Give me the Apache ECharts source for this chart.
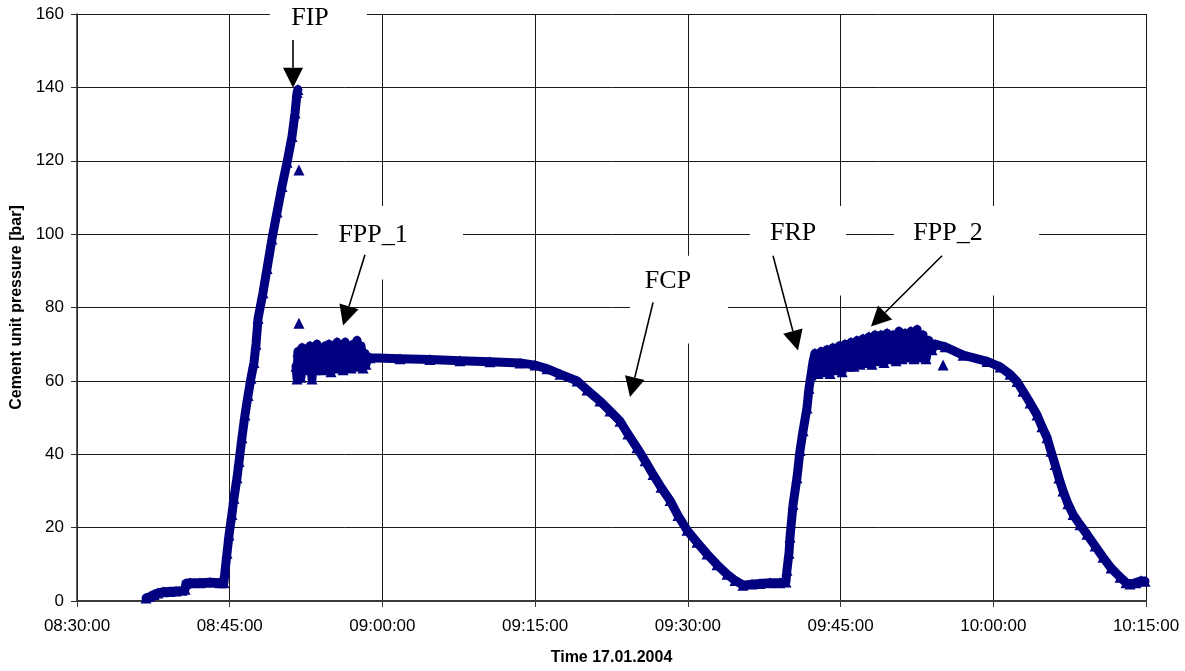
<!DOCTYPE html>
<html><head><meta charset="utf-8">
<script src="https://cdn.jsdelivr.net/npm/echarts@6/dist/echarts.min.js"></script>
<style>html,body{margin:0;padding:0;background:#fff}#c{width:1185px;height:671px}</style>
</head><body><div id="c"></div>
<script>
// ---- data (time HH:MM:SS, pressure bar) ----
const xMin = "08:30:00", xMax = "10:15:00";
const yTicks = [0, 20, 40, 60, 80, 100, 120, 140, 160];
const rampUp = [["08:36:47",0.8],["08:37:10",1.2],["08:37:34",1.8],["08:37:57",2.2],["08:38:27",2.5],["08:39:08",2.6],["08:39:44",2.7],["08:40:19",2.9],["08:40:37",3.2],["08:40:42",4.8],["08:41:06",5.0],["08:42:05",5.0],["08:43:04",5.1],["08:44:03",5.0],["08:44:26",5.0],["08:44:32",8],["08:44:44",13],["08:44:56",18],["08:45:13",23.6],["08:45:25",28],["08:45:43",33.6],["08:45:55",38],["08:46:12",44.5],["08:46:30",50.7],["08:46:48",56],["08:47:05",60.7],["08:47:23",65],["08:47:35",70],["08:47:47",77],["08:48:16",84],["08:48:40",90.6],["08:49:09",98.7],["08:49:39",106],["08:50:08",113],["08:50:38",119.6],["08:51:07",126.6],["08:51:25",133],["08:51:37",138.6],["08:51:42",139.4]];
const spikes = [["08:51:48",117.5],["08:51:48",75.7],["09:55:04",64.3]];
const pumping1 = [["08:51:31",64],["08:51:37",60.5],["08:51:42",68],["08:51:48",63],["08:51:54",67],["08:52:00",61],["08:52:06",69],["08:52:18",63],["08:52:30",68.5],["08:52:41",64],["08:52:53",69.5],["08:53:05",60.5],["08:53:11",66],["08:53:23",63],["08:53:34",70],["08:53:46",63.5],["08:53:58",68],["08:54:10",63],["08:54:22",69.5],["08:54:33",64],["08:54:45",70],["08:54:57",62.5],["08:55:09",68],["08:55:21",63.5],["08:55:32",70.5],["08:55:44",64],["08:55:56",69],["08:56:08",63],["08:56:20",70.5],["08:56:31",64.5],["08:56:43",69],["08:56:55",63.5],["08:57:07",70],["08:57:18",64],["08:57:30",71],["08:57:42",65],["08:57:54",69.5],["08:58:06",63.5],["08:58:17",67.5],["08:58:23",64.5],["08:58:35",66.5]];
const displacement = [["08:58:47",66.3],["09:01:44",66.0],["09:04:40",65.8],["09:07:37",65.5],["09:10:34",65.2],["09:13:31",64.9],["09:14:59",64.3],["09:16:10",63.3],["09:17:27",61.8],["09:19:07",60.0],["09:20:06",57.5],["09:21:22",54.5],["09:22:21",51.8],["09:23:20",49.0],["09:24:07",45.5],["09:25:00",41.8],["09:25:48",38.2],["09:26:35",34.5],["09:27:22",31.0],["09:28:15",27.4],["09:29:02",23.3],["09:29:55",19.3],["09:30:54",16.0],["09:31:53",12.8],["09:32:52",9.9],["09:33:51",7.3],["09:34:38",5.6],["09:35:25",4.3],["09:36:18",4.6],["09:37:05",4.8],["09:38:04",5.0],["09:39:03",5.0],["09:39:38",5.2]];
const rampUp2 = [["09:39:44",8.4],["09:39:56",13],["09:40:02",17.4],["09:40:20",26.3],["09:40:43",33.6],["09:41:01",41],["09:41:19",46.4],["09:41:42",52.6],["09:41:54",58],["09:42:06",61.6],["09:42:18",65.3]];
const pumping2 = [["09:42:29",67.5],["09:42:47",62],["09:43:05",68],["09:43:22",62.5],["09:43:40",68.5],["09:43:58",62],["09:44:15",69],["09:44:33",63],["09:44:51",69.5],["09:45:09",62.5],["09:45:26",70],["09:45:44",64],["09:46:02",70.5],["09:46:19",64],["09:46:37",71],["09:46:55",64.5],["09:47:12",71.5],["09:47:30",65],["09:47:48",72],["09:48:05",64.5],["09:48:23",72.5],["09:48:41",65.5],["09:48:58",72.5],["09:49:16",65],["09:49:34",73],["09:49:51",66],["09:50:09",72.5],["09:50:27",65.5],["09:50:44",73.5],["09:51:02",66],["09:51:20",73],["09:51:37",66.5],["09:51:55",73.5],["09:52:13",66],["09:52:31",74],["09:52:48",66.5],["09:53:06",72.5],["09:53:24",66],["09:53:41",71],["09:53:59",68.5],["09:54:17",70]];
const bleedOff = [["09:55:16",69.3],["09:57:02",67.0],["09:59:23",65.3],["10:00:40",63.8],["10:01:39",61.8],["10:02:20",59.8],["10:02:55",57.2],["10:03:37",54.0],["10:04:18",50.7],["10:04:47",47.5],["10:05:17",44.5],["10:05:40",40.8],["10:06:04",37.2],["10:06:27",33.5],["10:06:51",30.0],["10:07:20",26.5],["10:07:50",23.6],["10:08:31",20.8],["10:09:12",18.2],["10:10:00",15.0],["10:10:47",11.9],["10:11:34",9.0],["10:12:27",6.5],["10:13:02",5.0],["10:13:26",4.6],["10:14:01",5.0],["10:14:31",5.5],["10:14:54",5.4]];
// annotations: label text, text anchor, white box corners, arrow start and tip (data coords)
const noteLabels = ["FIP","FPP_1","FCP","FRP","FPP_2"];
const noteText = [["08:52:53",158.9],["08:59:05",99.8],["09:28:03",87.1],["09:40:20",100.3],["09:55:33",100.3]];
const noteBoxFrom = [["08:48:57",163.8],["08:53:40",107.7],["09:24:19",94.1],["09:36:06",107.7],["09:50:15",107.7]];
const noteBoxTo = [["08:58:29",151.6],["09:07:55",87.6],["09:33:57",70.2],["09:45:32",83.3],["10:04:30",83.3]];
const arrowFrom = [["08:51:13",152.9],["08:58:17",94.4],["09:26:35",81.4],["09:38:22",94.1],["09:54:58",94.1]];
const arrowTo = [["08:51:13",139.9],["08:56:08",75.1],["09:24:19",55.6],["09:40:49",68.3],["09:47:59",74.8]];

// ---- helpers ----
function toSec(s){const p=s.split(':').map(Number);return p[0]*3600+p[1]*60+p[2];}
function fmt(v){const h=Math.floor(v/3600),m=Math.floor((v%3600)/60),s=Math.round(v%60);const z=n=>String(n).padStart(2,'0');return z(h)+':'+z(m)+':'+z(s);}
const conv = arr => arr.map(d => [toSec(d[0]), d[1]]);
const NAVY = '#000080';
const lineSeries = data => ({
  type:'line', data: conv(data), symbol:'triangle', symbolSize:11, showSymbol:true, showAllSymbol:true,
  itemStyle:{color:NAVY,opacity:1}, lineStyle:{color:NAVY,width:9,join:'round',cap:'round'}, silent:true, animation:false, z:5
});

const chart = echarts.init(document.getElementById('c'), null, {renderer:'canvas'});
chart.setOption({
  animation:false,
  backgroundColor:'#fff',
  grid:{left:77,right:39,top:14,bottom:67,containLabel:false},
  xAxis:{
    type:'value', min:toSec(xMin), max:toSec(xMax), interval:900,
    axisLine:{show:true,lineStyle:{color:'#3a3a3a',width:2}},
    axisTick:{show:true,inside:false,length:6,lineStyle:{color:'#3a3a3a',width:1}},
    axisLabel:{formatter:fmt,color:'#000',fontFamily:'Liberation Sans',fontSize:17,margin:17},
    splitLine:{show:true,lineStyle:{color:'#1a1a1a',width:1}},
    name:'Time 17.01.2004', nameLocation:'middle', nameGap:49,
    nameTextStyle:{fontFamily:'Liberation Sans',fontWeight:'bold',fontSize:16,color:'#000'}
  },
  yAxis:{
    type:'value', min:yTicks[0], max:yTicks[yTicks.length-1], interval:yTicks[1]-yTicks[0],
    axisLine:{show:true,lineStyle:{color:'#2a2a2a',width:1.5}},
    axisTick:{show:true,inside:false,length:6,lineStyle:{color:'#2a2a2a',width:1}},
    axisLabel:{color:'#000',fontFamily:'Liberation Sans',fontSize:17,margin:13},
    splitLine:{show:true,lineStyle:{color:'#1a1a1a',width:1}},
    name:'Cement unit pressure [bar]', nameLocation:'middle', nameGap:51, nameRotate:90,
    nameTextStyle:{fontFamily:'Liberation Sans',fontWeight:'bold',fontSize:16,color:'#000'}
  },
  series:[
    lineSeries(rampUp),
    lineSeries(pumping1.concat(displacement, rampUp2, pumping2, bleedOff)),
    {type:'scatter', data:conv(spikes), symbol:'triangle', symbolSize:11, itemStyle:{color:NAVY,opacity:1}, silent:true, z:5}
  ]
});

function px(d){return chart.convertToPixel({xAxisIndex:0,yAxisIndex:0},[toSec(d[0]),d[1]]);}
const els = [];
noteLabels.forEach((lab,i)=>{
  const a = px(noteBoxFrom[i]), b = px(noteBoxTo[i]);
  els.push({type:'rect', z:50, shape:{x:Math.min(a[0],b[0]),y:Math.min(a[1],b[1]),width:Math.abs(b[0]-a[0]),height:Math.abs(b[1]-a[1])}, style:{fill:'#fff'}, silent:true});
  const t = px(noteText[i]);
  els.push({type:'text', z:60, x:t[0], y:t[1], style:{text:lab, font:'26px "Liberation Serif"', fill:'#000', align:'center', verticalAlign:'middle', textAlign:'center', textVerticalAlign:'middle'}, silent:true});
  const s = px(arrowFrom[i]), e = px(arrowTo[i]);
  const dx=e[0]-s[0], dy=e[1]-s[1], L=Math.hypot(dx,dy), ux=dx/L, uy=dy/L;
  const hl=20, hw=10;
  const bx=e[0]-ux*hl, by=e[1]-uy*hl;
  els.push({type:'line', z:60, shape:{x1:s[0],y1:s[1],x2:bx,y2:by}, style:{stroke:'#000',lineWidth:1.6}, silent:true});
  els.push({type:'polygon', z:61, shape:{points:[[e[0],e[1]],[bx-uy*hw,by+ux*hw],[bx+uy*hw,by-ux*hw]]}, style:{fill:'#000'}, silent:true});
});
chart.setOption({graphic:{elements:els}});
</script></body></html>
